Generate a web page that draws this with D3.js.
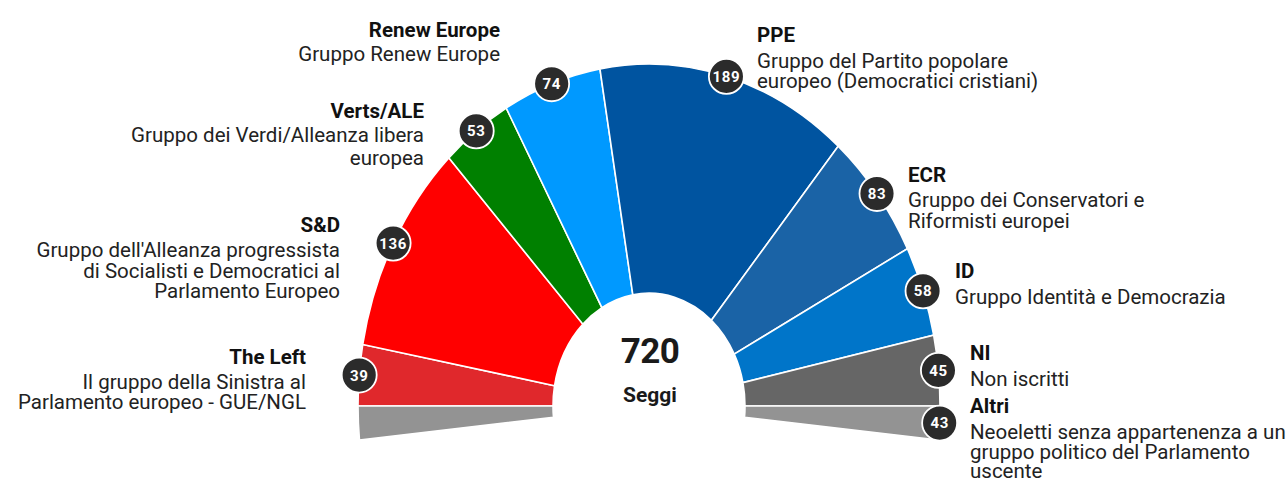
<!DOCTYPE html>
<html><head><meta charset="utf-8">
<script src="https://cdn.jsdelivr.net/npm/d3@7"></script>
<style>
html,body{margin:0;padding:0;background:#fff;}
svg{display:block;}
</style></head>
<body>
<svg id="chart" width="1288" height="483"></svg>
<script>
// ---- data ----
const parties = ["The Left","S&D","Verts/ALE","Renew Europe","PPE","ECR","ID","NI","Altri"];
const seats   = [39, 136, 53, 74, 189, 83, 58, 45, 43];
const descriptions = [
  ["Il gruppo della Sinistra al","Parlamento europeo - GUE/NGL"],
  ["Gruppo dell'Alleanza progressista","di Socialisti e Democratici al","Parlamento Europeo"],
  ["Gruppo dei Verdi/Alleanza libera","europea"],
  ["Gruppo Renew Europe"],
  ["Gruppo del Partito popolare","europeo (Democratici cristiani)"],
  ["Gruppo dei Conservatori e","Riformisti europei"],
  ["Gruppo Identità e Democrazia"],
  ["Non iscritti"],
  ["Neoeletti senza appartenenza a un","gruppo politico del Parlamento","uscente"]
];
const totalLabel = "Seggi";

// ---- styles / layout ----
const colors = ["#e0282c","#ff0000","#008000","#0099ff","#0054a0","#1a63a6","#0075c9","#666666","#939393"];
const labelLayout = {
  "The Left":     {anchor:"end",   x:306, title:364, lines:[389,409]},
  "S&D":          {anchor:"end",   x:340, title:232, lines:[257,278,298]},
  "Verts/ALE":    {anchor:"end",   x:424, title:118, lines:[142,165]},
  "Renew Europe": {anchor:"end",   x:500, title:37,  lines:[61]},
  "PPE":          {anchor:"start", x:757, title:42,  lines:[68,88]},
  "ECR":          {anchor:"start", x:908, title:182, lines:[207,228]},
  "ID":           {anchor:"start", x:955, title:278, lines:[304]},
  "NI":           {anchor:"start", x:970, title:360, lines:[386]},
  "Altri":        {anchor:"start", x:970, title:413, lines:[439,459,478]}
};
const cx = 649, cy = 406, rOuter = 291, rInner = 96, sy = 1.175;

const svg = d3.select("#chart");
const total = d3.sum(seats);
const altriIdx = parties.indexOf("Altri");
const mainTotal = total - seats[altriIdx];

// seats -> angle; main groups fill the upper half, "Altri" is split below both ends
const angle = d3.scaleLinear().domain([0, mainTotal]).range([-Math.PI/2, Math.PI/2]);

const slices = [];
let acc = 0;
parties.forEach((p, i) => {
  if (i === altriIdx) return;
  slices.push({party:p, i, start:acc, end:acc + seats[i], badge:true});
  acc += seats[i];
});
const half = seats[altriIdx] / 2;
slices.push({party:"Altri", i:altriIdx, start:-half, end:0, badge:false});
slices.push({party:"Altri", i:altriIdx, start:mainTotal, end:mainTotal + half, badge:true});

const arc = d3.arc().innerRadius(rInner).outerRadius(rOuter);

const g = svg.append("g").attr("transform", `translate(${cx},${cy}) scale(1,${sy})`);
g.selectAll("path").data(slices).join("path")
  .attr("d", d => arc({startAngle: angle(d.start), endAngle: angle(d.end)}))
  .attr("fill", d => colors[d.i])
  .attr("stroke", "#fff")
  .attr("stroke-width", 1.6)
  .attr("vector-effect", "non-scaling-stroke");

// badges
const badges = svg.append("g").selectAll("g").data(slices.filter(d => d.badge)).join("g")
  .attr("transform", d => {
    const a = angle((d.start + d.end) / 2);
    return `translate(${cx + rOuter*Math.sin(a)},${cy - rOuter*sy*Math.cos(a)})`;
  });
badges.append("circle").attr("r", 17.5).attr("fill", "#2b2b2b").attr("stroke", "#fff").attr("stroke-width", 1.8);
badges.append("text")
  .attr("text-anchor", "middle").attr("dy", "0.36em")
  .attr("fill", "#fff").attr("font-family", "Roboto, sans-serif").attr("font-weight", 700)
  .attr("font-size", 15).attr("letter-spacing", 0.6)
  .text(d => seats[d.i]);

// center total
svg.append("text").attr("x", cx + 1).attr("y", 363).attr("text-anchor", "middle")
  .attr("font-family", "Roboto, sans-serif").attr("font-weight", 700).attr("font-size", 35)
  .attr("letter-spacing", -0.5).attr("fill", "#1a1a1a").text(total);
svg.append("text").attr("x", cx + 1).attr("y", 402).attr("text-anchor", "middle")
  .attr("font-family", "Roboto, sans-serif").attr("font-weight", 700).attr("font-size", 21)
  .attr("fill", "#1a1a1a").text(totalLabel);

// labels
const labels = svg.append("g");
parties.forEach((p, i) => {
  const L = labelLayout[p];
  labels.append("text").attr("x", L.x).attr("y", L.title).attr("text-anchor", L.anchor)
    .attr("font-family", "Roboto, sans-serif").attr("font-weight", 700).attr("font-size", 20.5)
    .attr("fill", "#111").text(p);
  descriptions[i].forEach((line, k) => {
    labels.append("text").attr("x", L.x).attr("y", L.lines[k]).attr("text-anchor", L.anchor)
      .attr("font-family", "Roboto, sans-serif").attr("font-weight", 400).attr("font-size", 20.5)
      .attr("fill", "#222").text(line);
  });
});
</script>
</body></html>
